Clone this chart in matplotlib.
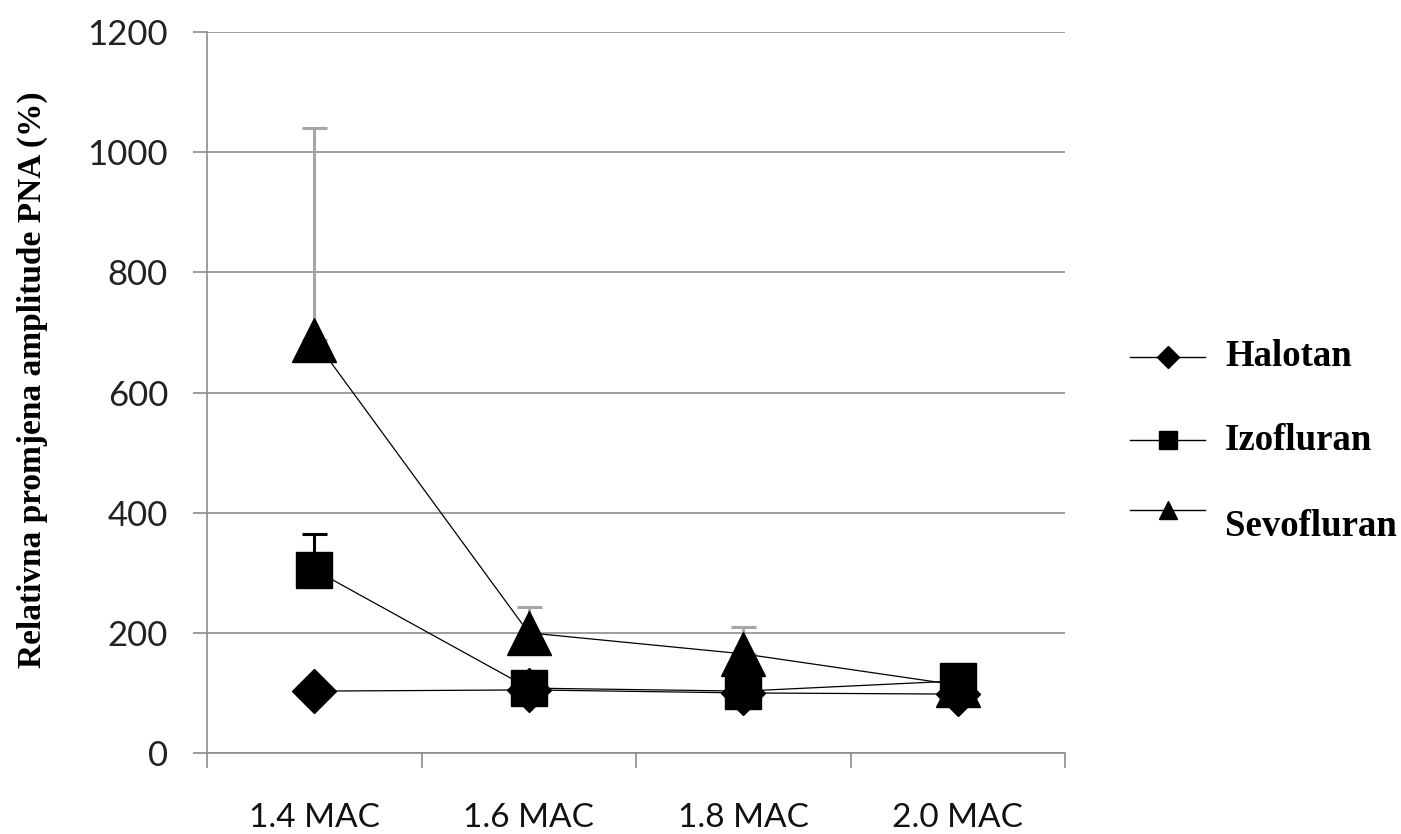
import matplotlib
matplotlib.use("Agg")
import matplotlib.pyplot as plt
from matplotlib.lines import Line2D
import numpy as np

categories = ["1.4 MAC", "1.6 MAC", "1.8 MAC", "2.0 MAC"]
series_names = ["Halotan", "Izofluran", "Sevofluran"]
halotan = [103, 105, 100, 98]
izofluran = [305, 108, 103, 120]
izofluran_err = [60, 0, 0, 0]
sevofluran = [688, 200, 165, 113]
sevofluran_err = [352, 43, 45, 0]
yticks = [0, 200, 400, 600, 800, 1000, 1200]

fig = plt.figure(figsize=(14.01, 8.34), dpi=100)
ax = fig.add_axes([207/1401, 1-753/834, (1065-207)/1401, (753-32)/834])

x = np.arange(len(categories))

ax.errorbar(x, izofluran, yerr=[np.zeros(4), izofluran_err], fmt='none',
            ecolor='black', elinewidth=2.2, capsize=9, capthick=2.2, zorder=3)
ax.errorbar(x, sevofluran, yerr=[np.zeros(4), sevofluran_err], fmt='none',
            ecolor='#a6a6a6', elinewidth=2.2, capsize=9, capthick=2.2, zorder=3)

ax.plot(x, halotan, color='black', lw=0.9, marker='D', ms=22, mfc='black', mec='black', zorder=4)
ax.plot(x, izofluran, color='black', lw=0.9, marker='s', ms=26.5, mfc='black', mec='black', zorder=5)
ax.plot(x, sevofluran, color='black', lw=0.9, marker='^', ms=32, mfc='black', mec='black', zorder=6)

ax.set_xlim(-0.5, 3.5)
ax.set_ylim(0, 1200)
ax.set_yticks(yticks)
ax.set_yticklabels([str(v) for v in yticks], fontfamily='Lato', fontsize=25, color='#222222')
ax.yaxis.grid(True, color='#8c8c8c', lw=1.2)
ax.set_axisbelow(True)

ax.set_xticks(x)
ax.set_xticklabels(categories, fontfamily='Lato', fontsize=24, color='#111111')
ax.set_xticks(np.arange(-0.5, 4.0, 1.0), minor=True)
ax.tick_params(axis='x', which='major', length=0, pad=36)
ax.tick_params(axis='x', which='minor', length=11, color='#8c8c8c', width=1.2)
ax.tick_params(axis='y', which='major', length=10, color='#8c8c8c', width=1.2, pad=18)

for s in ['top', 'right']:
    ax.spines[s].set_visible(False)
for s in ['left', 'bottom']:
    ax.spines[s].set_color('#8c8c8c')
    ax.spines[s].set_linewidth(1.2)

fig.text(32/1401, 1-380/834, "Relativna promjena amplitude PNA (%)", rotation=90,
         ha='center', va='center', fontfamily='Liberation Serif', fontweight='bold', fontsize=24)

# legend (manual placement)
leg_markers = ['D', 's', '^']
leg_ms = [11, 13, 13]
leg_line_y = [357, 440, 510]
leg_text_y = [357, 440, 527]
for name, m, ms, ly, ty in zip(series_names, leg_markers, leg_ms, leg_line_y, leg_text_y):
    fig.add_artist(Line2D([1130/1401, 1205/1401], [1-ly/834, 1-ly/834], color='black', lw=1.0,
                          transform=fig.transFigure))
    fig.add_artist(Line2D([1168/1401], [1-ly/834], marker=m, ms=ms, color='black',
                          transform=fig.transFigure))
    fig.text(1225/1401, 1-ty/834, name, ha='left', va='center', fontfamily='Liberation Serif',
             fontweight='bold', fontsize=26.5)

fig.savefig("out.png", dpi=100, facecolor='white')
